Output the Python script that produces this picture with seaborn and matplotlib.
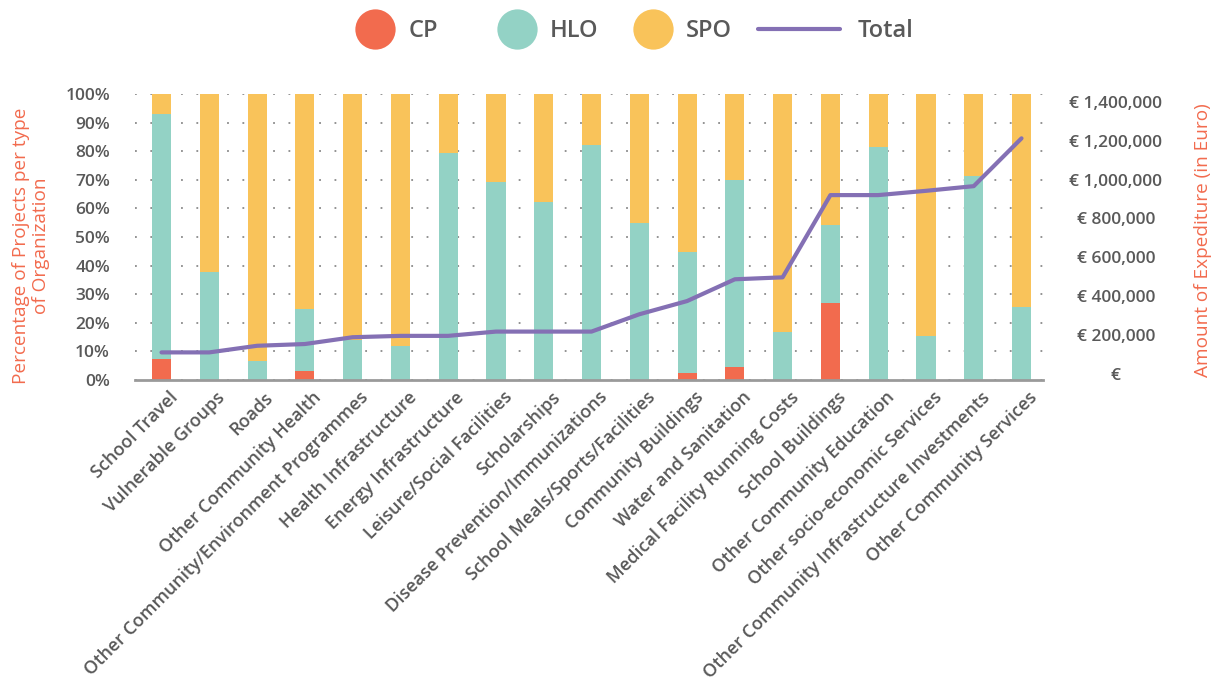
import numpy as np
import pandas as pd
import matplotlib
matplotlib.use("Agg")
import matplotlib.pyplot as plt
import matplotlib.transforms as mtransforms
from matplotlib.lines import Line2D
from matplotlib.ticker import FixedLocator, FuncFormatter, MultipleLocator
import seaborn as sns

sns.set_theme(style="white")
plt.rcParams["font.family"] = ["Open Sans", "DejaVu Sans"]

categories = [
    "School Travel", "Vulnerable Groups", "Roads", "Other Community Health",
    "Other Community/Environment Programmes", "Health Infrastructure",
    "Energy Infrastructure", "Leisure/Social Facilities", "Scholarships",
    "Disease Prevention/Immunizations", "School Meals/Sports/Facilities",
    "Community Buildings", "Water and Sanitation", "Medical Facility Running Costs",
    "School Buildings", "Other Community Education", "Other socio-economic Services",
    "Other Community Infrastructure Investments", "Other Community Services",
]
cp = [7.3, 0, 0, 3.1, 0, 0, 0, 0, 0, 0, 0, 2.4, 4.7, 0, 26.9, 0, 0, 0, 0]
hlo = [85.8, 37.8, 6.6, 21.7, 14.0, 12.0, 79.4, 69.3, 62.3, 82.2, 54.9,
       42.5, 65.3, 16.9, 27.3, 81.5, 15.5, 71.3, 25.5]
spo = [6.9, 62.2, 93.4, 75.2, 86.0, 88.0, 20.6, 30.7, 37.7, 17.8, 45.1,
       55.1, 30.0, 83.1, 45.8, 18.5, 84.5, 28.7, 74.5]
total = [111000, 111000, 145000, 154000, 189000, 196000, 196000, 218000, 218000,
         218000, 307000, 375000, 487000, 497000, 920000, 920000, 942000, 966000,
         1212000]

c_cp = "#F26B4E"
c_hlo = "#93D2C5"
c_spo = "#F9C35A"
c_total = "#8470B4"
c_text = "#595959"
c_label = "#F26B4E"

df = pd.DataFrame({"category": categories, "cp": cp, "hlo": hlo, "spo": spo, "total": total})
df["cp_hlo"] = df["cp"] + df["hlo"]
df["all"] = df["cp_hlo"] + df["spo"]

fig = plt.figure(figsize=(12.15, 6.81), dpi=100)
ax = fig.add_axes([135 / 1215, 1 - 380 / 681, (1043 - 135) / 1215, (380 - 94) / 681])

# stacked bars drawn back to front
for col, color in [("all", c_spo), ("cp_hlo", c_hlo), ("cp", c_cp)]:
    sns.barplot(data=df, x="category", y=col, color=color, saturation=1,
                width=0.4, linewidth=0, errorbar=None, ax=ax)

ax.set_xlim(-0.555, len(categories) - 1 + 0.45)
ax.set_ylim(0, 100)
ax.yaxis.set_major_locator(MultipleLocator(10))
ax.yaxis.set_major_formatter(FuncFormatter(lambda v, p: f"{v:.0f}%"))
ax.set_axisbelow(True)
ax.yaxis.grid(True, color="#8a8a8a", linestyle=(0, (1, 7.5)), linewidth=1.3)
ax.xaxis.grid(False)
for s in ["top", "left", "right"]:
    ax.spines[s].set_visible(False)
ax.spines["bottom"].set_color("#9a9a9a")
ax.spines["bottom"].set_linewidth(2)
ax.set_xlabel("")
ax.set_ylabel("")
ax.tick_params(axis="y", length=0, pad=18, labelsize=12.5, labelcolor=c_text)
ax.tick_params(axis="x", length=0, pad=6, labelsize=13, labelcolor=c_text)
for lab in ax.get_yticklabels():
    lab.set_fontweight("semibold")

offset = mtransforms.ScaledTranslation(7 / 100, 0, fig.dpi_scale_trans)
for lab in ax.get_xticklabels():
    lab.set_rotation(45)
    lab.set_ha("right")
    lab.set_va("top")
    lab.set_rotation_mode("anchor")
    lab.set_fontweight("semibold")
    lab.set_transform(lab.get_transform() + offset)

ax2 = ax.twinx()
sns.lineplot(x=np.arange(len(categories)), y=df["total"], color=c_total,
             linewidth=3, ax=ax2)
ax2.set_ylim(-31000, 1440000)
ax2.yaxis.set_major_locator(FixedLocator(np.arange(0, 1400001, 200000)))
ax2.yaxis.set_major_formatter(
    FuncFormatter(lambda v, p: "€" if v == 0 else f"€ {v:,.0f}"))
ax2.set_ylabel("")
for s in ["top", "left", "right", "bottom"]:
    ax2.spines[s].set_visible(False)
ax2.tick_params(axis="y", length=0, pad=52.5, labelsize=12.5, labelcolor=c_text)
ax2.grid(False)
fig.canvas.draw()
for lab in ax2.get_yticklabels():
    lab.set_ha("center")
    lab.set_fontweight("semibold")

fig.text(31 / 1215, 1 - 246 / 681, "Percentage of Projects per type\nof Organization",
         rotation=90, ha="center", va="center", multialignment="center",
         color=c_label, fontsize=13.7)
fig.text(1203 / 1215, 1 - 240 / 681, "Amount of Expediture (in Euro)",
         rotation=90, ha="center", va="center", color=c_label, fontsize=13.7)

# legend items placed one by one along the top
legend_items = [
    (Line2D([], [], marker="o", linestyle="", markersize=29, markerfacecolor=c_cp,
            markeredgewidth=0, label="CP"), 355, 1.7, 0.55),
    (Line2D([], [], marker="o", linestyle="", markersize=29, markerfacecolor=c_hlo,
            markeredgewidth=0, label="HLO"), 497, 1.7, 0.55),
    (Line2D([], [], marker="o", linestyle="", markersize=29, markerfacecolor=c_spo,
            markeredgewidth=0, label="SPO"), 633, 1.7, 0.55),
    (Line2D([], [], color=c_total, linewidth=3, label="Total"), 758, 3.47, 0.76),
]
for handle, x0, hlen, tpad in legend_items:
    leg = fig.legend(handles=[handle], loc="center left",
                     bbox_to_anchor=(x0 / 1215, 1 - 31 / 681), frameon=False,
                     borderpad=0, borderaxespad=0, handlelength=hlen,
                     handletextpad=tpad, prop={"size": 17, "weight": "semibold"})
    for t in leg.get_texts():
        t.set_color(c_text)

fig.savefig("out.png", dpi=100)
